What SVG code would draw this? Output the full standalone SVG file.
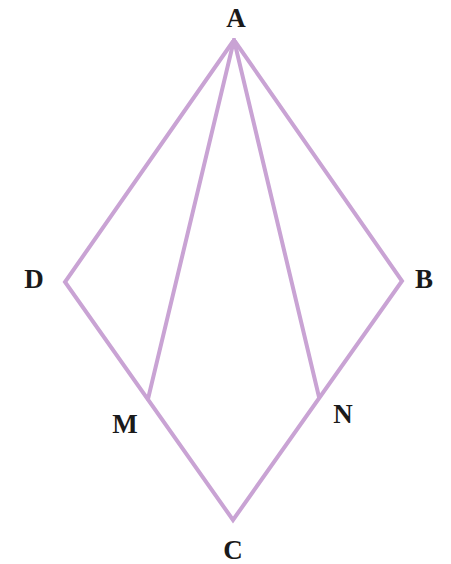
<svg xmlns="http://www.w3.org/2000/svg" width="451" height="564" viewBox="0 0 451 564">
<style>
.e{stroke:#c9a3d4;stroke-width:4;fill:none;stroke-linecap:round;stroke-linejoin:miter}
.l{font-family:"Liberation Serif","Times New Roman",serif;font-weight:bold;font-size:27px;fill:#1a1a1a;text-anchor:middle}
</style>
<rect width="451" height="564" fill="#fff"/>
<g id="connectors">
<polyline class="e" points="234,40 65,282 233,520 402,281 234,40"/>
<line class="e" x1="234" y1="40" x2="148" y2="399"/>
<line class="e" x1="234" y1="40" x2="319" y2="397"/>
</g>
<g id="A"><text class="l" x="236" y="27">A</text></g>
<g id="D"><text class="l" x="34" y="288">D</text></g>
<g id="B"><text class="l" x="424" y="288">B</text></g>
<g id="M"><text class="l" x="125" y="433">M</text></g>
<g id="N"><text class="l" x="343" y="423">N</text></g>
<g id="C"><text class="l" x="233" y="559">C</text></g>
</svg>
